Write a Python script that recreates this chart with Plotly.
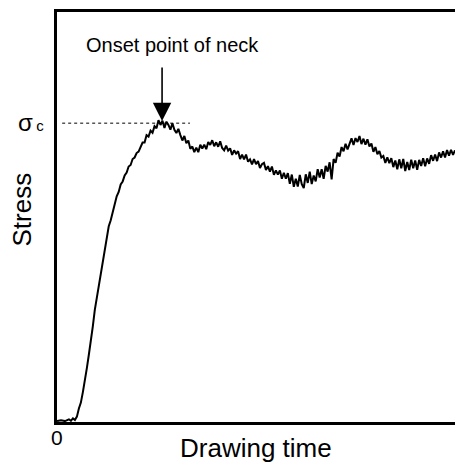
import plotly.graph_objects as go

# Drawing time (arbitrary units) and stress (σc = 100)
time_start = [0, 1, 2, 3, 3.5, 4, 4.5, 5]
stress_start = [0.3, 0.6, 0.3, 0.9, 0.4, 1.2, 0.7, 1.8]

# sampled every 0.5 time units from 5.5 onward
stress_main = [
    4.5, 6.5, 10.0, 13.5, 18.0, 22.5, 26.5, 32.0, 37.5, 41.5,
    45.5, 50.0, 55.0, 58.5, 62.0, 65.5, 67.5, 70.5, 72.5, 75.5,
    77.0, 79.5, 80.5, 82.5, 83.5, 85.5, 86.0, 88.0, 88.5, 90.0,
    90.5, 92.0, 93.5, 93.5, 96.0, 95.5, 97.5, 96.8, 99.0,
    98.3, 101.0, 99.4, 100.8, 98.4, 100.5, 99.4, 97.8, 100.0, 97.8,
    96.7, 98.1, 96.0, 94.2, 95.7, 93.3, 94.2, 91.4, 92.2, 90.3,
    91.8, 90.3, 92.8, 91.5, 92.8, 91.3, 93.7, 92.7, 94.3, 92.3,
    93.6, 92.1, 93.9, 91.7, 90.9, 92.5, 90.8, 91.6, 89.4, 90.9,
    89.8, 90.6, 88.0, 89.5, 87.9, 89.5, 87.1, 87.9, 86.2, 88.0,
    86.3, 87.3, 85.0, 86.3, 86.7, 84.3, 85.6, 83.8, 85.5, 82.7,
    84.2, 82.8, 84.2, 81.4, 83.4, 81.4, 83.3, 79.7, 82.8, 78.7,
    81.4, 78.8, 82.7, 79.6, 78.3, 82.9, 80.0, 83.8, 79.6, 82.5,
    80.5, 84.6, 81.8, 84.6, 81.4, 85.7, 83.8, 86.9, 81.2, 88.0,
    86.7, 90.1, 88.8, 92.0, 90.6, 93.1, 91.2, 93.5, 94.9, 92.7,
    95.0, 93.7, 95.7, 93.0, 94.8, 92.8, 94.6, 92.2, 93.2, 90.4,
    92.0, 89.6, 90.7, 88.5, 89.0, 86.7, 88.6, 86.6, 88.3, 85.3,
    87.5, 84.6, 87.9, 84.9, 88.0, 84.0, 87.0, 84.3, 87.8, 84.9,
    87.5, 84.4, 87.7, 85.7, 88.3, 85.6, 88.2, 86.4, 89.3, 87.4,
    89.5, 87.3, 90.2, 88.5, 90.6, 88.5, 91.0, 89.1, 91.1, 89.4,
    90.9,
]
time_main = [5.5 + 0.5 * i for i in range(len(stress_main))]

time = time_start + time_main
stress = stress_start + stress_main

sigma_c = 100
y_tick_text = "<span style='font-size:24px'>σ</span> <span style='font-size:15px'>c</span>"
x_tick_text = "0"
neck_time = 26.4

fig = go.Figure()
fig.add_trace(go.Scatter(x=time, y=stress, mode="lines",
                         line=dict(color="black", width=2),
                         hoverinfo="skip", showlegend=False))

fig.add_shape(type="line", x0=1.3, x1=33.4, y0=sigma_c, y1=sigma_c,
              xref="x", yref="y", line=dict(color="black", width=1, dash="dot"))

# arrow
fig.add_annotation(x=neck_time, y=sigma_c + 0.7, xref="x", yref="y",
                   ax=0, ay=-55, axref="pixel", ayref="pixel",
                   text="", showarrow=True, arrowhead=2, arrowsize=2.3,
                   arrowwidth=1.6, arrowcolor="black")
fig.add_annotation(x=29.0, y=126.2, xref="x", yref="y",
                   text="Onset point of neck", showarrow=False,
                   font=dict(size=20, color="black"), yanchor="middle")

# tick-like labels
fig.add_annotation(x=0, y=sigma_c, xref="paper", yref="y", xshift=-11,
                   yshift=1, xanchor="right", yanchor="middle", showarrow=False,
                   text=y_tick_text, font=dict(color="black"))
fig.add_annotation(x=0, y=0, xref="x", yref="paper", yshift=-15.5,
                   xanchor="center", yanchor="middle", showarrow=False,
                   text=x_tick_text, font=dict(size=21, color="black"))

# axis titles
fig.add_annotation(x=0.5, y=0, xref="paper", yref="paper", yshift=-26,
                   xanchor="center", yanchor="middle", showarrow=False,
                   text="Drawing time", font=dict(size=26, color="black"))
fig.add_annotation(x=0, y=0.517, xref="paper", yref="paper", xshift=-34.5,
                   xanchor="center", yanchor="middle", showarrow=False,
                   textangle=-90,
                   text="Stress", font=dict(size=26, color="black"))

fig.update_layout(
    width=455, height=462,
    margin=dict(l=57, r=0, t=12, b=40),
    paper_bgcolor="white", plot_bgcolor="white",
    font=dict(family="Liberation Sans, Arial, sans-serif", color="black"),
    xaxis=dict(range=[0, 100], showgrid=False, zeroline=False,
               showline=True, linecolor="black", linewidth=2.5, mirror=True,
               showticklabels=False, ticks=""),
    yaxis=dict(range=[0, 137.2], showgrid=False, zeroline=False,
               showline=True, linecolor="black", linewidth=2.5, mirror=False,
               showticklabels=False, ticks=""),
)

fig.write_html("out.html")
